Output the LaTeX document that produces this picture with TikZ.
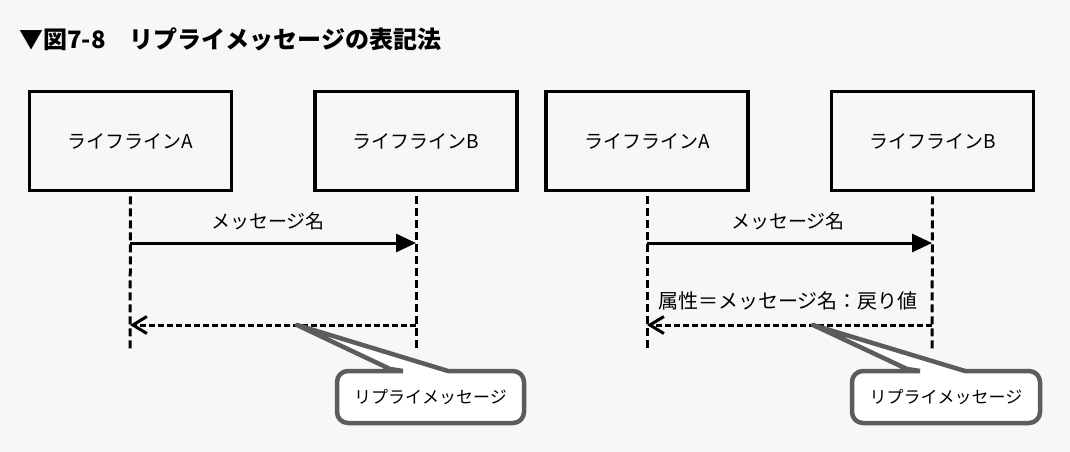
\documentclass[tikz,border=0pt]{standalone}
\usepackage{fontspec}
\newfontfamily\jp{Noto Sans CJK JP}
\usetikzlibrary{arrows.meta}
\definecolor{bg}{HTML}{F7F7F7}
\definecolor{callgray}{HTML}{5C5C5C}
\tikzset{
  lifebox/.style={draw=black, line width=3.6pt, minimum width=202pt, minimum height=99pt, inner sep=0pt, font=\jp\fontsize{19}{21}\selectfont},
  lifeline/.style={line width=3pt, dash pattern=on 8pt off 4pt},
  syncmsg/.style={line width=3pt, -{Triangle[length=20pt,width=18pt]}},
  replymsg/.style={line width=3pt, dash pattern=on 6pt off 3pt, -{Straight Barb[length=14pt,width=17pt]}},
  msglabel/.style={font=\jp\fontsize{19}{21}\selectfont, inner sep=0pt},
  callout/.style={draw=callgray, fill=white, line width=4.5pt, line join=round},
  callouttext/.style={font=\jp\fontsize{17}{19}\selectfont, inner sep=0pt},
  titletext/.style={font=\jp\bfseries\fontsize{24}{26}\selectfont, inner sep=0pt, anchor=west}
}
\begin{document}
\begin{tikzpicture}[x=1pt,y=-1pt]
\useasboundingbox[fill=bg] (0,0) rectangle (1070,452);
\node[titletext] (title) at (19,39) {▼図7-8　リプライメッセージの表記法};

% ---------- left panel ----------
\node[lifebox] (A1) at (130.5,141) {ライフラインA};
\node[lifebox] (B1) at (416,141) {ライフラインB};
\coordinate (A1end) at (130,349);
\coordinate (B1end) at (416,349);
\draw[lifeline] ([yshift=-4pt]A1.south) -- (A1end);
\draw[lifeline] ([yshift=-4pt]B1.south) -- (B1end);
\coordinate (m1s) at (130,243);
\coordinate (m1e) at (416,243);
\draw[syncmsg] (m1s) -- (m1e);
\node[msglabel] (m1l) at (268,221) {メッセージ名};
\coordinate (r1s) at (416,325);
\coordinate (r1e) at (130,325);
\draw[replymsg] (r1s) -- (r1e);
\node[callouttext] (c1) at (430.5,397) {リプライメッセージ};
\draw[callout] (403,371) -- (390,369) -- (297,325) -- (448,371)
  [rounded corners=11pt] -- (524,371) -- (524,423) -- (337,423) -- (337,371) -- (380,371) [sharp corners] -- (403,371);
\node[callouttext] at (c1) {リプライメッセージ};

% ---------- right panel ----------
\node[lifebox] (A2) at (647,141) {ライフラインA};
\node[lifebox] (B2) at (932.5,141) {ライフラインB};
\coordinate (A2end) at (647,349);
\coordinate (B2end) at (932,349);
\draw[lifeline] ([yshift=-4pt]A2.south) -- (A2end);
\draw[lifeline] ([yshift=-4pt]B2.south) -- (B2end);
\coordinate (m2s) at (647,243);
\coordinate (m2e) at (932,243);
\draw[syncmsg] (m2s) -- (m2e);
\node[msglabel] (m2l) at (788,221) {メッセージ名};
\node[msglabel, font=\jp\fontsize{20}{22}\selectfont] (r2l) at (788,301) {属性＝メッセージ名：戻り値};
\coordinate (r2s) at (932,325);
\coordinate (r2e) at (647,325);
\draw[replymsg] (r2s) -- (r2e);
\node[callouttext] (c2) at (946,397) {リプライメッセージ};
\draw[callout] (920,371) -- (907,369) -- (813,325) -- (965,371)
  [rounded corners=11pt] -- (1040,371) -- (1040,423) -- (852,423) -- (852,371) -- (895,371) [sharp corners] -- (920,371);
\node[callouttext] at (c2) {リプライメッセージ};
\end{tikzpicture}
\end{document}
